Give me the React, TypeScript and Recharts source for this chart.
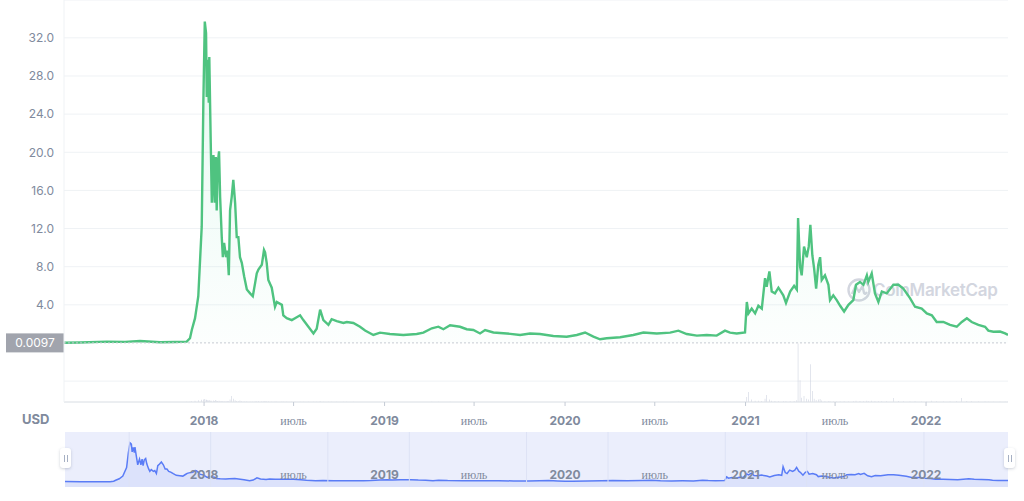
import React from 'react';
import {
  ComposedChart,
  AreaChart,
  LineChart,
  Line,
  Area,
  Bar,
  XAxis,
  YAxis,
  CartesianGrid,
  ReferenceLine,
} from 'recharts';

// decimal years
const dates = [
  2017.224, 2017.313, 2017.461, 2017.562, 2017.645, 2017.756, 2017.839, 2017.904, 2017.922, 2017.932,
  2017.95, 2017.968, 2017.987, 2017.996, 2018.004, 2018.011, 2018.015, 2018.02, 2018.026, 2018.029,
  2018.037, 2018.043, 2018.052, 2018.059, 2018.065, 2018.07, 2018.076, 2018.083, 2018.089, 2018.098,
  2018.104, 2018.111, 2018.122, 2018.129, 2018.137, 2018.144, 2018.153, 2018.162, 2018.172, 2018.181,
  2018.19, 2018.199, 2018.209, 2018.222, 2018.237, 2018.255, 2018.27, 2018.283, 2018.292, 2018.301,
  2018.32, 2018.332, 2018.338, 2018.347, 2018.356, 2018.375, 2018.393, 2018.403, 2018.431, 2018.439,
  2018.458, 2018.486, 2018.504, 2018.532, 2018.55, 2018.578, 2018.606, 2018.624, 2018.643, 2018.661,
  2018.689, 2018.707, 2018.735, 2018.772, 2018.791, 2018.827, 2018.864, 2018.892, 2018.938, 2018.975,
  2019.03, 2019.104, 2019.178, 2019.215, 2019.262, 2019.298, 2019.326, 2019.363, 2019.418, 2019.455,
  2019.492, 2019.529, 2019.557, 2019.603, 2019.677, 2019.751, 2019.806, 2019.861, 2019.935, 2020.009,
  2020.065, 2020.111, 2020.157, 2020.194, 2020.231, 2020.305, 2020.378, 2020.434, 2020.508, 2020.582,
  2020.628, 2020.674, 2020.73, 2020.785, 2020.84, 2020.886, 2020.914, 2020.951, 2020.997, 2021.007,
  2021.016, 2021.034, 2021.053, 2021.071, 2021.09, 2021.108, 2021.117, 2021.132, 2021.145, 2021.163,
  2021.182, 2021.209, 2021.224, 2021.247, 2021.269, 2021.284, 2021.291, 2021.302, 2021.311, 2021.324,
  2021.339, 2021.35, 2021.359, 2021.37, 2021.38, 2021.391, 2021.403, 2021.413, 2021.422, 2021.44,
  2021.459, 2021.468, 2021.486, 2021.505, 2021.524, 2021.546, 2021.57, 2021.597, 2021.612, 2021.634,
  2021.653, 2021.672, 2021.68, 2021.699, 2021.717, 2021.736, 2021.755, 2021.782, 2021.819, 2021.847,
  2021.874, 2021.911, 2021.939, 2021.976, 2022.004, 2022.032, 2022.059, 2022.096, 2022.133, 2022.17,
  2022.198, 2022.226, 2022.253, 2022.29, 2022.327, 2022.345, 2022.373, 2022.41, 2022.438, 2022.454,
];

const prices = [
  0.03, 0.05, 0.14, 0.12, 0.2, 0.07, 0.1, 0.14, 0.5, 1.36,
  2.6, 4.9, 12.2, 25.2, 33.7, 32.5, 25.8, 29.7, 25.2, 30.0,
  21.0, 14.7, 19.7, 14.7, 19.5, 13.9, 18.9, 20.1, 15.3, 11.1,
  9.0, 10.5, 9.0, 9.7, 7.1, 13.9, 15.3, 17.1, 14.7, 11.1,
  11.1, 9.0, 8.4, 7.0, 5.6, 5.2, 4.9, 6.3, 7.3, 7.7,
  8.2, 9.75, 9.5, 8.4, 6.6, 5.8, 3.8, 4.3, 4.0, 2.9,
  2.6, 2.4, 2.6, 2.9, 2.4, 1.7, 1.0, 1.5, 3.5, 2.4,
  1.9, 2.5, 2.3, 2.1, 2.2, 2.1, 1.7, 1.3, 0.84, 1.08,
  0.94, 0.84, 0.94, 1.08, 1.54, 1.71, 1.44, 1.85, 1.7, 1.44,
  1.36, 1.0, 1.36, 1.1, 1.0, 0.84, 1.0, 0.94, 0.73, 0.66,
  0.84, 1.1, 0.66, 0.39, 0.49, 0.6, 0.84, 1.1, 1.0, 1.08,
  1.29, 0.94, 0.77, 0.84, 0.77, 1.29, 1.08, 1.0, 1.1, 4.3,
  3.1, 3.6, 3.1, 3.9, 3.6, 6.8, 5.9, 7.5, 5.4, 5.2,
  5.8, 5.0, 4.2, 5.4, 6.0, 5.6, 13.1, 8.0, 7.1, 10.1,
  9.0, 10.1, 12.4, 9.2, 7.8, 5.7, 8.2, 9.0, 6.6, 7.1,
  6.1, 4.5, 5.0, 4.5, 3.9, 3.3, 4.0, 4.5, 6.1, 6.4,
  6.1, 7.1, 6.4, 7.3, 5.2, 4.3, 5.4, 5.2, 6.1, 6.1,
  5.7, 4.7, 3.8, 3.6, 3.1, 2.9, 2.2, 2.2, 1.9, 1.7,
  2.2, 2.6, 2.2, 1.9, 1.7, 1.3, 1.18, 1.2, 1.0, 0.84,
];

// 24h volume, millions USD
const volumes = [
  0, 0, 1, 1, 1, 1, 1, 2, 4, 8,
  14, 20, 28, 30, 36, 30, 24, 20, 18, 20,
  16, 14, 18, 12, 24, 14, 12, 16, 10, 8,
  8, 10, 8, 10, 8, 30, 72, 40, 20, 12,
  10, 18, 8, 6, 5, 4, 4, 6, 6, 8,
  6, 10, 8, 6, 5, 4, 4, 3, 3, 3,
  2, 2, 2, 2, 2, 2, 2, 3, 8, 4,
  2, 2, 2, 2, 2, 2, 1, 1, 1, 1,
  1, 1, 1, 1, 2, 2, 1, 2, 1, 1,
  1, 1, 1, 1, 1, 1, 1, 1, 1, 1,
  1, 1, 1, 1, 1, 1, 1, 1, 1, 1,
  2, 1, 1, 1, 1, 2, 1, 1, 2, 60,
  120, 30, 14, 16, 12, 40, 84, 30, 14, 12,
  10, 8, 8, 10, 12, 20, 700, 260, 50, 72,
  40, 30, 450, 130, 40, 24, 30, 36, 18, 10,
  8, 8, 6, 6, 6, 8, 6, 8, 14, 12,
  8, 16, 10, 14, 10, 8, 10, 8, 48, 12,
  8, 6, 8, 6, 6, 14, 8, 6, 6, 8,
  48, 12, 8, 6, 6, 4, 4, 4, 4, 4,
];

const priceTicks = [-4, 4, 8, 12, 16, 20, 24, 28, 32];
const timeTicks = [2018, 2018.496, 2019, 2019.496, 2020, 2020.497, 2021, 2021.496, 2022];
const navGridTicks = [2018, 2018.41, 2019, 2019.41, 2020, 2020.41, 2021, 2021.41, 2022];
const lastPrice = 0.0097;

const mainDomain: [number, number] = [2017.224, 2022.454];
const navDomain: [number, number] = [2017.677, 2022.423];
const priceDomain: [number, number] = [-6.19, 35.97];
const navPriceDomain: [number, number] = [-4.5, 43];
const volDomain: [number, number] = [0, 4800];

const data = dates.map((t, i) => ({ t, price: prices[i], vol: volumes[i] }));

const GRAY = '#808a9d';
const FONT = 'Inter, "Noto Sans", sans-serif';

const tickLabel = (v: number) => (Number.isInteger(v) ? String(v) : 'июль');

function TimeTick(props: any) {
  const { x, y, payload } = props;
  const isYear = Number.isInteger(payload.value);
  return (
    <text
      x={x}
      y={y}
      dy="0.71em"
      textAnchor="middle"
      fill={GRAY}
      fontFamily={isYear ? FONT : '"Liberation Serif", serif'}
      fontWeight={isYear ? 700 : 400}
      fontSize={12}
    >
      {tickLabel(payload.value)}
    </text>
  );
}

function PriceTag(props: any) {
  const { viewBox } = props;
  const y = viewBox.y;
  return (
    <g>
      <rect x={viewBox.x - 58} y={y - 9.5} width={58} height={19} fill="#a1a4ad" />
      <text
        x={viewBox.x - 29}
        y={y}
        dy="0.35em"
        textAnchor="middle"
        fill="#fff"
        fontFamily={FONT}
        fontSize={12}
      >
        {String(lastPrice)}
      </text>
    </g>
  );
}

function Handle({ left }: { left: number }) {
  return (
    <div
      style={{
        position: 'absolute',
        left,
        top: 448,
        width: 11,
        height: 20,
        background: '#fff',
        borderRadius: 3,
        boxShadow: '0 1px 3px rgba(88,102,126,0.3)',
        display: 'flex',
        justifyContent: 'center',
        alignItems: 'center',
        gap: 2,
      }}
    >
      <div style={{ width: 1, height: 7, background: '#a6b0c3' }} />
      <div style={{ width: 1, height: 7, background: '#a6b0c3' }} />
    </div>
  );
}

export default function App() {
  return (
    <div
      style={{
        position: 'absolute',
        left: 0,
        top: 0,
        width: 1024,
        height: 501,
        background: '#fff',
        overflow: 'hidden',
        fontFamily: FONT,
      }}
    >
      {/* watermark */}
      <div
        style={{
          position: 'absolute',
          left: 847,
          top: 278,
          display: 'flex',
          alignItems: 'center',
          gap: 2,
          color: '#d3d6df',
          fontSize: 17,
          fontWeight: 600,
          letterSpacing: -0.3,
        }}
      >
        <svg width={24} height={24} viewBox="0 0 24 24">
          <circle cx={12} cy={12} r={10.5} fill="none" stroke="#d3d6df" strokeWidth={2.4} />
          <path
            d="M5 16 L8.5 8 L12 14 L15.5 8 L17 15 Q18 17 20 14"
            fill="none"
            stroke="#d3d6df"
            strokeWidth={2.4}
            strokeLinejoin="round"
          />
        </svg>
        <span>CoinMarketCap</span>
      </div>

      <div style={{ position: 'absolute', left: 0, top: 0 }}>
        <ComposedChart
          width={1024}
          height={430}
          data={data}
          margin={{ top: 0, right: 16, bottom: 0, left: 0 }}
        >
          <defs>
            <linearGradient id="priceFill" x1="0" y1="0" x2="0" y2="1">
              <stop offset="0%" stopColor="#16c784" stopOpacity={0.18} />
              <stop offset="100%" stopColor="#16c784" stopOpacity={0.02} />
            </linearGradient>
          </defs>
          <CartesianGrid vertical={false} stroke="#eff2f5" yAxisId="price" />
          <XAxis
            dataKey="t"
            type="number"
            domain={mainDomain}
            ticks={timeTicks}
            height={28}
            stroke="#e0e3e8"
            tickLine={{ stroke: '#c5cbd5' }}
            tickSize={4}
            tickMargin={10}
            tick={(p: any) => <TimeTick {...p} />}
            allowDataOverflow
          />
          <YAxis
            yAxisId="price"
            type="number"
            domain={priceDomain}
            ticks={priceTicks}
            width={64}
            axisLine={{ stroke: '#eff2f5' }}
            tickLine={false}
            tickSize={6}
            tickMargin={4}
            tick={{ fill: GRAY, fontSize: 12, fontFamily: FONT }}
            tickFormatter={(v: number) => (v > 0 ? v.toFixed(1) : '')}
            allowDataOverflow
          />
          <YAxis yAxisId="vol" hide domain={volDomain} allowDataOverflow />
          <Bar
            yAxisId="vol"
            dataKey="vol"
            fill="#c5cbda"
            barSize={1}
            isAnimationActive={false}
          />
          <ReferenceLine
            yAxisId="price"
            y={lastPrice}
            stroke="#c6cad2"
            strokeDasharray="2 2"
            label={<PriceTag />}
          />
          <Area
            yAxisId="price"
            dataKey="price"
            type="linear"
            stroke="#4fc380"
            strokeWidth={2.4}
            fill="url(#priceFill)"
            dot={false}
            activeDot={false}
            isAnimationActive={false}
          />
        </ComposedChart>
      </div>

      <div
        style={{
          position: 'absolute',
          left: 22,
          top: 411,
          color: GRAY,
          fontSize: 13,
          fontWeight: 700,
        }}
      >
        USD
      </div>

      {/* navigator */}
      <div style={{ position: 'absolute', left: 0, top: 432 }}>
        <AreaChart
          width={1024}
          height={55}
          data={data}
          margin={{ top: 0, right: 16, bottom: 0, left: 65 }}
        >
          <CartesianGrid fill="#ebeefc" horizontal={false} vertical={false} stroke="none" />
          <XAxis dataKey="t" type="number" domain={navDomain} hide allowDataOverflow />
          <YAxis hide domain={navPriceDomain} allowDataOverflow />
          {navGridTicks.map((t) => (
            <ReferenceLine key={t} x={t} stroke="#dde2f5" />
          ))}
          <Area
            dataKey="price"
            type="linear"
            stroke="#5a7cf6"
            strokeWidth={1.5}
            fill="#dce2fb"
            fillOpacity={1}
            baseValue={navPriceDomain[0]}
            dot={false}
            activeDot={false}
            isAnimationActive={false}
          />
        </AreaChart>
      </div>

      {/* navigator time labels, on the main time scale */}
      <div style={{ position: 'absolute', left: 0, top: 460 }}>
        <LineChart
          width={1024}
          height={40}
          data={data}
          margin={{ top: 0, right: 16, bottom: 0, left: 64 }}
        >
          <XAxis
            dataKey="t"
            type="number"
            domain={mainDomain}
            ticks={timeTicks}
            height={30}
            axisLine={false}
            tickLine={false}
            tickSize={0}
            tickMargin={0}
            tick={(p: any) => <TimeTick {...p} />}
            allowDataOverflow
          />
          <YAxis hide domain={priceDomain} />
          <Line
            dataKey="price"
            stroke="none"
            dot={false}
            activeDot={false}
            isAnimationActive={false}
          />
        </LineChart>
      </div>

      <Handle left={60} />
      <Handle left={1004} />
    </div>
  );
}
